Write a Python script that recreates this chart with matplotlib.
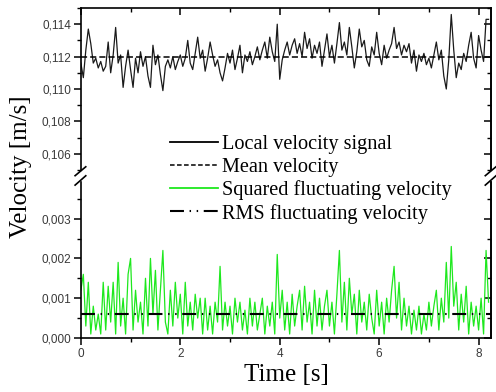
import matplotlib.pyplot as plt
import matplotlib.ticker as ticker
from matplotlib.lines import Line2D
import numpy as np

sample_step = 0.05

velocity = [
    0.1116, 0.1107, 0.1124, 0.1137, 0.1128, 0.1116, 0.1119, 0.1113, 0.1117, 0.1111,
    0.1114, 0.1129, 0.1110, 0.1121, 0.1138, 0.1116, 0.1121, 0.1101, 0.1114, 0.1124,
    0.1112, 0.1101, 0.1119, 0.1110, 0.1123, 0.1114, 0.1120, 0.1108, 0.1101, 0.1127,
    0.1115, 0.1121, 0.1109, 0.1099, 0.1114, 0.1118, 0.1113, 0.1120, 0.1112, 0.1117,
    0.1121, 0.1114, 0.1119, 0.1130, 0.1116, 0.1112, 0.1122, 0.1132, 0.1119, 0.1124,
    0.1111, 0.1119, 0.1129, 0.1121, 0.1114, 0.1118, 0.1110, 0.1105, 0.1113, 0.1122,
    0.1116, 0.1124, 0.1112, 0.1119, 0.1127, 0.1110, 0.1121, 0.1117, 0.1123, 0.1115,
    0.1120, 0.1126, 0.1118, 0.1124, 0.1129, 0.1119, 0.1132, 0.1123, 0.1117, 0.1140,
    0.1106, 0.1118, 0.1124, 0.1129, 0.1121, 0.1127, 0.1131, 0.1122, 0.1128, 0.1120,
    0.1135, 0.1125, 0.1131, 0.1119, 0.1127, 0.1122, 0.1129, 0.1114, 0.1124, 0.1134,
    0.1120, 0.1127, 0.1116, 0.1128, 0.1141, 0.1124, 0.1129, 0.1121, 0.1138, 0.1126,
    0.1113, 0.1123, 0.1137, 0.1126, 0.1130, 0.1118, 0.1114, 0.1126, 0.1121, 0.1135,
    0.1122, 0.1115, 0.1127, 0.1119, 0.1124, 0.1128, 0.1138, 0.1125, 0.1129, 0.1121,
    0.1127, 0.1123, 0.1128, 0.1116, 0.1124, 0.1111, 0.1121, 0.1117, 0.1122, 0.1115,
    0.1119, 0.1113, 0.1121, 0.1129, 0.1118, 0.1124, 0.1108, 0.1100, 0.1118, 0.1146,
    0.1124, 0.1107, 0.1116, 0.1112, 0.1122, 0.1117, 0.1127, 0.1135, 0.1119, 0.1113,
    0.1133, 0.1124, 0.1117, 0.1143, 0.1143,
]

squared_fluct = [
    0.0012, 0.0016, 0.0003, 0.0014, 0.0001, 0.0008, 0.0002, 0.0006, 0.0001, 0.0014,
    0.0002, 0.0013, 0.0004, 0.0014, 0.0001, 0.0019, 0.0003, 0.0010, 0.0001, 0.0016,
    0.0020, 0.0002, 0.0012, 0.0004, 0.0009, 0.0001, 0.0015, 0.0003, 0.0020, 0.0006,
    0.0017, 0.0002, 0.0012, 0.0022, 0.0004, 0.0001, 0.0012, 0.0003, 0.0014, 0.0005,
    0.0011, 0.0001, 0.0014, 0.0003, 0.0009, 0.0002, 0.0011, 0.0005, 0.0010, 0.0001,
    0.0010, 0.0002, 0.0008, 0.0001, 0.0009, 0.0004, 0.0018, 0.0002, 0.0009, 0.0003,
    0.0008, 0.0001, 0.0010, 0.0004, 0.0009, 0.0002, 0.0007, 0.0001, 0.0010, 0.0003,
    0.0009, 0.0002, 0.0006, 0.0010, 0.0001, 0.0008, 0.0003, 0.0009, 0.0001, 0.0021,
    0.0005, 0.0012, 0.0002, 0.0009, 0.0001, 0.0011, 0.0003, 0.0008, 0.0012, 0.0002,
    0.0013, 0.0004, 0.0009, 0.0001, 0.0012, 0.0003, 0.0010, 0.0002, 0.0008, 0.0012,
    0.0003, 0.0009, 0.0001, 0.0011, 0.0022, 0.0004, 0.0014, 0.0002, 0.0015, 0.0006,
    0.0011, 0.0001, 0.0012, 0.0004, 0.0009, 0.0002, 0.0011, 0.0005, 0.0001, 0.0012,
    0.0003, 0.0009, 0.0001, 0.0010, 0.0004, 0.0012, 0.0018, 0.0005, 0.0014, 0.0002,
    0.0010, 0.0003, 0.0008, 0.0001, 0.0007, 0.0002, 0.0008, 0.0001, 0.0006, 0.0002,
    0.0009, 0.0003, 0.0008, 0.0012, 0.0002, 0.0010, 0.0004, 0.0019, 0.0005, 0.0023,
    0.0008, 0.0014, 0.0002, 0.0011, 0.0004, 0.0013, 0.0001, 0.0009, 0.0003, 0.0008,
    0.0002, 0.0010, 0.0001, 0.0022, 0.0009,
]

mean_velocity = 0.112
rms_fluct = 0.0006

time = np.arange(len(velocity)) * sample_step

legend_labels = ["Local velocity signal", "Mean velocity",
                 "Squared fluctuating velocity", "RMS fluctuating velocity"]

serif = "Liberation Serif"
tick_color = "#3a3a3a"
green = "#1ee81e"
rms_dashes = (6.7, 2.7, 0.7, 2.7, 0.7, 2.7)

fig = plt.figure(figsize=(4.96, 3.92), dpi=100)
ax_top = fig.add_axes([0.163, 0.5663, 0.827, 0.4133])
ax_bot = fig.add_axes([0.163, 0.1378, 0.827, 0.3979])

# upper part: velocity signal and mean
ax_top.plot(time, velocity, color="#1a1a1a", lw=0.9)
ax_top.axhline(mean_velocity, color="black", lw=1.1, dashes=(4, 2))
ax_top.set_ylim(0.105, 0.115)

# lower part: squared fluctuation and rms
ax_bot.plot(time, squared_fluct, color=green, lw=0.9)
ax_bot.axhline(rms_fluct, color="black", lw=1.5, dashes=rms_dashes)
ax_bot.set_ylim(0, 0.00392)

comma = ticker.FuncFormatter(lambda v, p: f"{v:.3f}".replace(".", ","))

ax_top.set_yticks([0.106, 0.108, 0.110, 0.112, 0.114])
ax_top.yaxis.set_minor_locator(ticker.MultipleLocator(0.001))
ax_bot.yaxis.set_major_locator(ticker.MultipleLocator(0.001))
ax_bot.yaxis.set_minor_locator(ticker.MultipleLocator(0.0005))

for ax in (ax_top, ax_bot):
    ax.set_xlim(0, 8.25)
    ax.xaxis.set_major_locator(ticker.MultipleLocator(2))
    ax.xaxis.set_minor_locator(ticker.MultipleLocator(1))
    ax.yaxis.set_major_formatter(comma)
    for s in ax.spines.values():
        s.set_linewidth(1.2)
    ax.tick_params(axis="both", which="major", length=5, width=1.1,
                   labelsize=8.5, labelcolor=tick_color, pad=2)
    ax.tick_params(axis="both", which="minor", length=3, width=1.0)
    ax.tick_params(axis="y", which="both", left=True, right=False, direction="out")
    for lab in ax.get_yticklabels() + ax.get_xticklabels():
        lab.set_fontfamily("Liberation Sans")
    # inward ticks on the right spine
    sec = ax.secondary_yaxis("right")
    sec.set_yticks(ax.get_yticks())
    sec.yaxis.set_minor_locator(ax.yaxis.get_minor_locator())
    sec.tick_params(which="major", direction="in", length=5, width=1.1, labelright=False)
    sec.tick_params(which="minor", direction="in", length=3, width=1.0)
    sec.spines["right"].set_linewidth(1.2)

ax_top.spines["bottom"].set_visible(False)
ax_top.tick_params(axis="x", which="both", bottom=False, labelbottom=False,
                   top=True, direction="in")

ax_bot.spines["top"].set_visible(False)
ax_bot.tick_params(axis="x", which="both", bottom=True, top=False, direction="out")

# break marks on both sides
kw = dict(color="black", lw=1.2, clip_on=False)
for xa in (0.0, 1.0):
    ax_top.plot([xa - 0.014, xa + 0.012], [-0.035, 0.02], transform=ax_top.transAxes, **kw)
    ax_bot.plot([xa - 0.014, xa + 0.012], [0.98, 1.04], transform=ax_bot.transAxes, **kw)

fig.text(0.042, 0.574, "Velocity [m/s]", rotation=90, ha="center", va="center",
         family=serif, fontsize=18)
fig.text(0.577, 0.043, "Time [s]", ha="center", va="center",
         family=serif, fontsize=18)

handles = [
    Line2D([], [], color="black", lw=1.3),
    Line2D([], [], color="black", lw=1.1, dashes=(3, 1.6)),
    Line2D([], [], color=green, lw=1.3),
    Line2D([], [], color="black", lw=1.5, dashes=rms_dashes),
]
fig.legend(handles, legend_labels, loc="upper left",
           bbox_to_anchor=(170 / 496, 1 - 135 / 392), frameon=False,
           prop={"family": serif, "size": 14.6}, handlelength=2.35,
           handletextpad=0.2, labelspacing=0.17, borderpad=0, borderaxespad=0)

fig.savefig("out.png", dpi=100)
